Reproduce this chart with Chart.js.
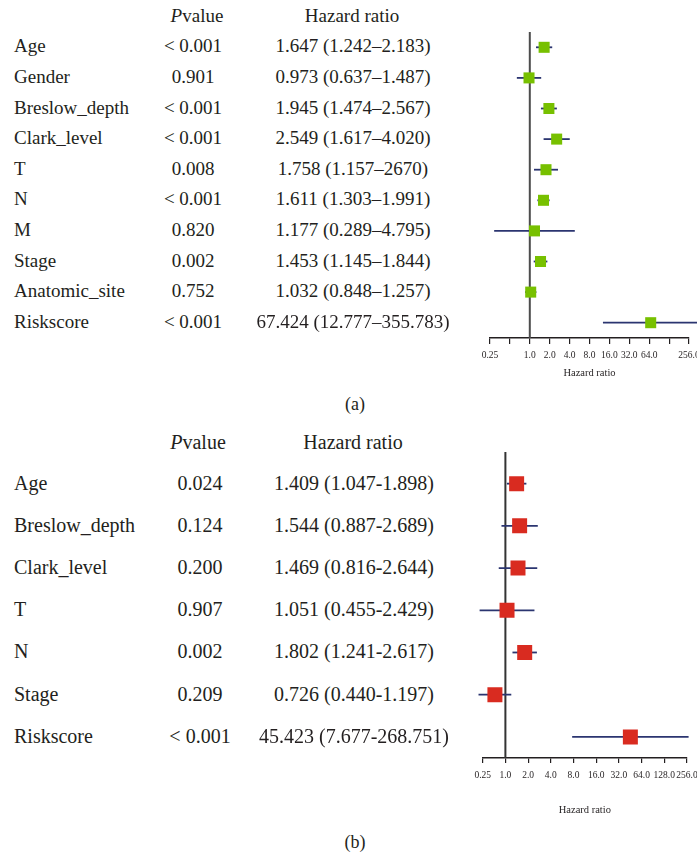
<!DOCTYPE html>
<html>
<head>
<meta charset="utf-8">
<script src="https://cdn.jsdelivr.net/npm/chart.js@4.4.1/dist/chart.umd.min.js"></script>
<style>
  html, body { margin: 0; padding: 0; background: #fff; overflow: hidden; }
  #page { position: relative; width: 697px; height: 854px; overflow: hidden;
          font-family: 'Liberation Serif', 'Times New Roman', serif; color: #231f20; }
  .t { position: absolute; white-space: nowrap; line-height: 1; transform: translateY(-50%); }
  .c { transform: translate(-50%, -50%); }
  canvas { position: absolute; }
</style>
</head>
<body>
<div id="page">
  <canvas id="chartA" width="280" height="392" style="left:440px;top:0px"></canvas>
  <canvas id="chartB" width="280" height="396" style="left:440px;top:430px"></canvas>
</div>
<script>
// ---- (a) univariate Cox regression ----
const namesA = ['Age', 'Gender', 'Breslow_depth', 'Clark_level', 'T', 'N', 'M', 'Stage', 'Anatomic_site', 'Riskscore'];
const pValuesA = ['< 0.001', '0.901', '< 0.001', '< 0.001', '0.008', '< 0.001', '0.820', '0.002', '0.752', '< 0.001'];
const hrA = [1.647, 0.973, 1.945, 2.549, 1.758, 1.611, 1.177, 1.453, 1.032, 67.424];
const lowerA = [1.242, 0.637, 1.474, 1.617, 1.157, 1.303, 0.289, 1.145, 0.848, 12.777];
const upperA = [2.183, 1.487, 2.567, 4.020, 2.670, 1.991, 4.795, 1.844, 1.257, 355.783];
const hrTextA = ['1.647 (1.242–2.183)', '0.973 (0.637–1.487)', '1.945 (1.474–2.567)', '2.549 (1.617–4.020)',
                 '1.758 (1.157–2670)', '1.611 (1.303–1.991)', '1.177 (0.289–4.795)', '1.453 (1.145–1.844)',
                 '1.032 (0.848–1.257)', '67.424 (12.777–355.783)'];
const tickValuesA = [0.25, 0.5, 1, 2, 4, 8, 16, 32, 64, 128, 256];
const tickLabelsA = ['0.25', '', '1.0', '2.0', '4.0', '8.0', '16.0', '32.0', '64.0', '', '256.0'];

// ---- (b) multivariate Cox regression ----
const namesB = ['Age', 'Breslow_depth', 'Clark_level', 'T', 'N', 'Stage', 'Riskscore'];
const pValuesB = ['0.024', '0.124', '0.200', '0.907', '0.002', '0.209', '< 0.001'];
const hrB = [1.409, 1.544, 1.469, 1.051, 1.802, 0.726, 45.423];
const lowerB = [1.047, 0.887, 0.816, 0.455, 1.241, 0.440, 7.677];
const upperB = [1.898, 2.689, 2.644, 2.429, 2.617, 1.197, 268.751];
const hrTextB = ['1.409 (1.047-1.898)', '1.544 (0.887-2.689)', '1.469 (0.816-2.644)', '1.051 (0.455-2.429)',
                 '1.802 (1.241-2.617)', '0.726 (0.440-1.197)', '45.423 (7.677-268.751)'];
const tickValuesB = [0.5, 1, 2, 4, 8, 16, 32, 64, 128, 256];
const tickLabelsB = ['0.25', '1.0', '2.0', '4.0', '8.0', '16.0', '32.0', '64.0', '128.0', '256.0'];

const refValue = 1;
const SERIF = "'Liberation Serif', 'Times New Roman', serif";
const INK = '#231f20';
const CI_COLOR = '#2b3570';

function forestChart(canvas, o) {
  const markers = {
    type: 'scatter',
    data: o.hr.map((v, i) => ({ x: v, y: i })),
    pointStyle: 'rect',
    pointRadius: o.markerRadius,
    pointBackgroundColor: o.color,
    pointBorderWidth: 0,
    order: 0
  };
  const intervals = o.lower.map((lo, i) => ({
    type: 'line',
    data: [{ x: lo, y: i }, { x: o.upper[i], y: i }],
    borderColor: CI_COLOR,
    borderWidth: 1.8,
    pointRadius: 0,
    clip: false,
    order: 2
  }));
  const refLine = {
    type: 'line',
    data: [{ x: refValue, y: o.yMin }, { x: refValue, y: o.yMax }],
    borderColor: o.refColor,
    borderWidth: 2,
    pointRadius: 0,
    clip: false,
    order: 3
  };
  return new Chart(canvas, {
    type: 'scatter',
    data: { datasets: [markers, ...intervals, refLine] },
    options: {
      responsive: false,
      animation: false,
      events: [],
      layout: { padding: o.padding },
      plugins: { legend: { display: false }, tooltip: { enabled: false } },
      scales: {
        x: {
          type: 'logarithmic',
          min: o.xMin,
          max: o.xMax,
          afterBuildTicks: (axis) => { axis.ticks = o.tickValues.map(v => ({ value: v })); },
          afterFit: (axis) => { axis.height = o.axisHeight; },
          ticks: {
            autoSkip: false, maxRotation: 0, minRotation: 0,
            padding: o.tickPadding, color: INK,
            font: { family: SERIF, size: 9.5 },
            callback: (v, i) => o.tickLabels[i]
          },
          grid: { display: true, drawOnChartArea: false, drawTicks: true,
                  tickLength: o.tickLength, color: INK, lineWidth: 1.2 },
          border: { display: true, color: INK, width: 1.5 },
          title: { display: true, text: 'Hazard ratio', color: INK,
                   font: { family: SERIF, size: 10.5 },
                   padding: { top: 2, bottom: o.titlePadBottom } }
        },
        y: { type: 'linear', reverse: true, min: o.yMin, max: o.yMax, display: false }
      }
    }
  });
}

function addText(html, x, y, size, centered) {
  const d = document.createElement('div');
  d.className = centered ? 't c' : 't';
  d.style.left = x + 'px';
  d.style.top = y + 'px';
  d.style.fontSize = size + 'px';
  d.innerHTML = html;
  document.getElementById('page').appendChild(d);
}

function drawTable(chart, canvasTop, names, pvals, hrTexts, t) {
  const ys = chart.scales.y;
  addText('<i>P</i>value', t.pHeadX, t.headY, t.size, true);
  addText('Hazard ratio', t.hrHeadX, t.headY, t.size, true);
  names.forEach((name, i) => {
    const y = canvasTop + ys.getPixelForValue(i) + t.dy;
    addText(name, 14, y, t.size, false);
    addText(pvals[i], t.pX, y, t.size, true);
    addText(hrTexts[i], t.hrX, y, t.size, true);
  });
}

const chartA = forestChart(document.getElementById('chartA'), {
  hr: hrA, lower: lowerA, upper: upperA,
  color: '#77c000', refColor: '#4d4d4d', markerRadius: 7.8,
  xMin: 0.25, xMax: 256, tickValues: tickValuesA, tickLabels: tickLabelsA,
  yMin: -0.5, yMax: 9.5,
  padding: { left: 50, right: 31, top: 32, bottom: 0 },
  axisHeight: 54, tickLength: 6, tickPadding: 6, titlePadBottom: 12.5
});
drawTable(chartA, 0, namesA, pValuesA, hrTextA,
  { size: 19, dy: -2, headY: 15, pHeadX: 197, hrHeadX: 352, pX: 193, hrX: 353 });

const chartB = forestChart(document.getElementById('chartB'), {
  hr: hrB, lower: lowerB, upper: upperB,
  color: '#d92b20', refColor: '#333333', markerRadius: 10.6,
  xMin: 0.5, xMax: 256, tickValues: tickValuesB, tickLabels: tickLabelsB,
  yMin: -0.75, yMax: 6.5,
  padding: { left: 42.7, right: 33, top: 22, bottom: 0 },
  axisHeight: 68, tickLength: 5, tickPadding: 7, titlePadBottom: 9.5
});
drawTable(chartB, 430, namesB, pValuesB, hrTextB,
  { size: 20, dy: -1, headY: 442, pHeadX: 198, hrHeadX: 353, pX: 200, hrX: 354 });

addText('(a)', 355, 404, 18, true);
addText('(b)', 355, 842, 18, true);
</script>
</body>
</html>
